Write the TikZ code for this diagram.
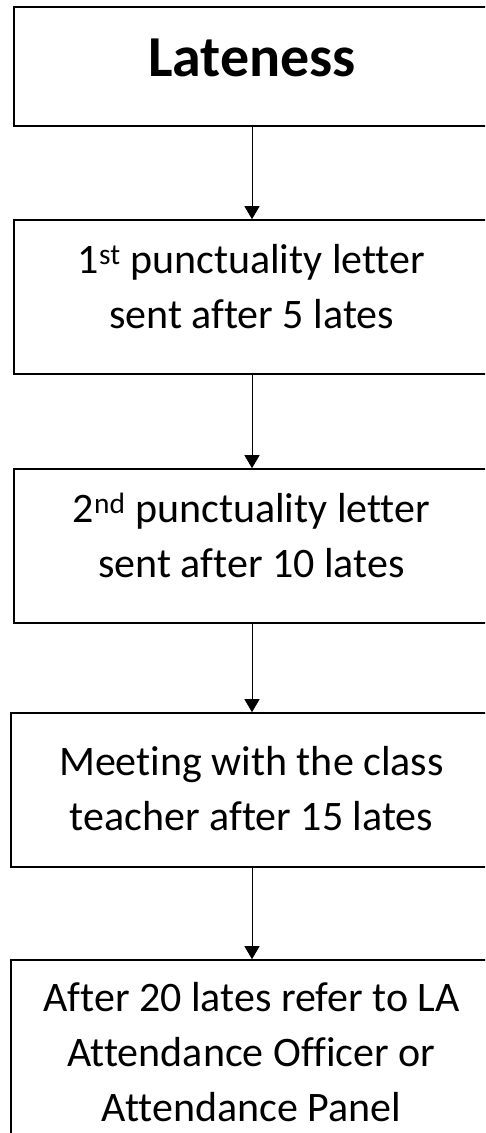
\documentclass[tikz,border=0pt]{standalone}
\usepackage{fontspec}
\setmainfont{Carlito}[Ligatures=NoCommon]
\usetikzlibrary{arrows.meta,positioning,calc}

\begin{document}
\begin{tikzpicture}[
  x=1pt, y=1pt,
  box/.style={draw, line width=1.6pt, minimum width=506pt, minimum height=154pt, inner sep=0pt},
  txt/.style={align=center, inner sep=0pt, font=\fontsize{42}{55}\selectfont},
  arr/.style={-{Triangle[length=13pt, width=15pt]}, line width=1pt, shorten <=-1pt}
]
\useasboundingbox (0,0) rectangle (485,-1133);
% boxes run off the right edge of the page
\clip (0,0) rectangle (485,-1133);

\node[box, minimum height=119pt] (late) at (267,-66.5) {};
\node[box, below=92.4pt of late] (first) {};
\node[box, below=93.4pt of first] (second) {};
\node[box, minimum width=509pt, below=88.4pt of second, xshift=-1.5pt] (meet) {};
\node[box, minimum width=509pt, minimum height=186pt, below=91.4pt of meet] (refer) {};

\node[txt, font=\fontsize{58}{64}\selectfont\bfseries] (lateT) at ($(late.center)+(-15,9)$) {Lateness};
\node[txt] (firstT) at ($(first.center)+(-15.5,10)$) {1\textsuperscript{st} punctuality letter\\sent after 5 lates};
\node[txt] (secondT) at ($(second.center)+(-15.5,11)$) {2\textsuperscript{nd} punctuality letter\\sent after 10 lates};
\node[txt] (meetT) at ($(meet.center)+(-14,1)$) {Meeting with the class\\teacher after 15 lates};
\node[txt] (referT) at ($(refer.center)+(-14,1)$) {After 20 lates refer to LA\\Attendance Officer or\\Attendance Panel};

\draw[arr] (late.south -| lateT) -- (first.north -| lateT);
\draw[arr] (first.south -| lateT) -- (second.north -| lateT);
\draw[arr] (second.south -| lateT) -- (meet.north -| lateT);
\draw[arr] (meet.south -| lateT) -- (refer.north -| lateT);

\end{tikzpicture}
\end{document}
